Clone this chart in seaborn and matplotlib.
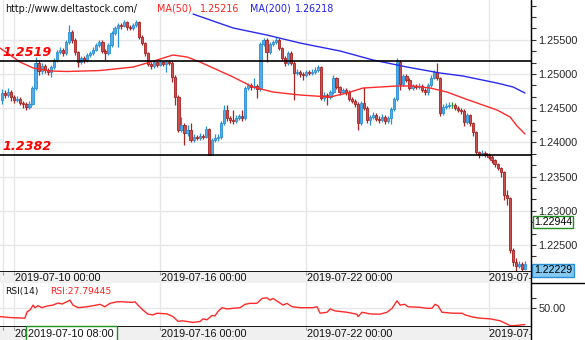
import matplotlib
matplotlib.use("Agg")
import matplotlib.pyplot as plt
import matplotlib.transforms as mtransforms
from matplotlib.lines import Line2D
from matplotlib.patches import Rectangle
from matplotlib.ticker import MultipleLocator, FormatStrFormatter, FixedLocator
from matplotlib import font_manager
import numpy as np
import pandas as pd
import seaborn as sns

sns.set_style("white")
plt.rcParams["font.family"] = ["DejaVu Sans"]

# ---------------- data: GBP/USD 2-hour candles ----------------
first_open = 1.24620
close = [
    1.24722, 1.24693, 1.24737, 1.24664, 1.24620, 1.24634, 1.24576, 1.24561, 1.24518, 1.24561,
    1.24795, 1.25161, 1.25044, 1.25117, 1.25058, 1.25029, 1.25102, 1.25205, 1.25322, 1.25351,
    1.25307, 1.25468, 1.25614, 1.25497, 1.25322, 1.25175, 1.25234, 1.25205, 1.25278, 1.25307,
    1.25351, 1.25424, 1.25468, 1.25336, 1.25307, 1.25424, 1.25599, 1.25673, 1.25716, 1.25702,
    1.25760, 1.25687, 1.25673, 1.25716, 1.25760, 1.25541, 1.25453, 1.25307, 1.25146, 1.25117,
    1.25175, 1.25132, 1.25175, 1.25146, 1.25175, 1.25161, 1.24956, 1.24664, 1.24181, 1.24254,
    1.24137, 1.24181, 1.24035, 1.24079, 1.24064, 1.24094, 1.24079, 1.24196, 1.23816, 1.24035,
    1.24064, 1.24079, 1.24284, 1.24474, 1.24357, 1.24327, 1.24313, 1.24357, 1.24386, 1.24357,
    1.24795, 1.24839, 1.24810, 1.24825, 1.24781, 1.25439, 1.25497, 1.25322, 1.25439, 1.25468,
    1.25497, 1.25380, 1.25234, 1.25161, 1.25307, 1.25161, 1.25015, 1.25029, 1.25000, 1.24985,
    1.25029, 1.25015, 1.25029, 1.25058, 1.25102, 1.24649, 1.24693, 1.24664, 1.24737, 1.24942,
    1.24810, 1.24737, 1.24766, 1.24737, 1.24634, 1.24605, 1.24561, 1.24284, 1.24576, 1.24503,
    1.24327, 1.24371, 1.24401, 1.24342, 1.24327, 1.24371, 1.24313, 1.24357, 1.24488, 1.24634,
    1.25175, 1.24854, 1.24971, 1.24912, 1.24795, 1.24825, 1.24810, 1.24825, 1.24766, 1.24737,
    1.24839, 1.24942, 1.25029, 1.24942, 1.24430, 1.24518, 1.24532, 1.24547, 1.24547, 1.24503,
    1.24474, 1.24459, 1.24298, 1.24401, 1.24284, 1.24152, 1.23860, 1.23816, 1.23845, 1.23816,
    1.23787, 1.23743, 1.23684, 1.23626, 1.23567, 1.23231, 1.23187, 1.22427, 1.22251, 1.22193,
    1.22222, 1.22149, 1.22229,
]
high = [
    1.24780, 1.24770, 1.24790, 1.24760, 1.24700, 1.24680, 1.24660, 1.24610, 1.24590, 1.24600,
    1.24830, 1.25250, 1.25200, 1.25160, 1.25150, 1.25090, 1.25130, 1.25240, 1.25350, 1.25400,
    1.25380, 1.25500, 1.25716, 1.25650, 1.25520, 1.25340, 1.25270, 1.25260, 1.25310, 1.25340,
    1.25390, 1.25460, 1.25497, 1.25500, 1.25360, 1.25450, 1.25630, 1.25700, 1.25740, 1.25750,
    1.25790, 1.25780, 1.25720, 1.25740, 1.25790, 1.25780, 1.25570, 1.25470, 1.25320, 1.25170,
    1.25200, 1.25190, 1.25200, 1.25190, 1.25200, 1.25200, 1.25190, 1.24990, 1.24700, 1.24371,
    1.24290, 1.24260, 1.24284, 1.24120, 1.24110, 1.24140, 1.24120, 1.24240, 1.24210, 1.24060,
    1.24120, 1.24130, 1.24320, 1.24547, 1.24540, 1.24390, 1.24474, 1.24400, 1.24420, 1.24474,
    1.24830, 1.24870, 1.24870, 1.24942, 1.24850, 1.25470, 1.25530, 1.25520, 1.25470, 1.25500,
    1.25541, 1.25520, 1.25400, 1.25260, 1.25340, 1.25330, 1.25190, 1.25070, 1.25060, 1.25030,
    1.25060, 1.25060, 1.25070, 1.25100, 1.25130, 1.25117, 1.24740, 1.24720, 1.24770, 1.24985,
    1.24960, 1.24830, 1.24800, 1.24790, 1.24760, 1.24660, 1.24630, 1.24590, 1.24610, 1.24810,
    1.24530, 1.24400, 1.24440, 1.24430, 1.24380, 1.24410, 1.24400, 1.24390, 1.24520, 1.24670,
    1.25234, 1.25200, 1.25000, 1.25000, 1.24940, 1.24860, 1.24860, 1.24870, 1.24850, 1.24790,
    1.24870, 1.24980, 1.25058, 1.25161, 1.24960, 1.24560, 1.24570, 1.24590, 1.24590, 1.24570,
    1.24530, 1.24500, 1.24490, 1.24430, 1.24420, 1.24300, 1.24170, 1.23880, 1.23890, 1.23870,
    1.23840, 1.23820, 1.23760, 1.23700, 1.23640, 1.23580, 1.23300, 1.23200, 1.22460, 1.22310,
    1.22260, 1.22250, 1.22260,
]
low = [
    1.24560, 1.24650, 1.24660, 1.24610, 1.24580, 1.24590, 1.24540, 1.24510, 1.24480, 1.24490,
    1.24540, 1.24770, 1.24990, 1.25000, 1.25010, 1.24980, 1.24956, 1.25080, 1.25180, 1.25290,
    1.25270, 1.25280, 1.25440, 1.25460, 1.25280, 1.25100, 1.25150, 1.25160, 1.25180, 1.25250,
    1.25280, 1.25330, 1.25400, 1.25300, 1.25205, 1.25280, 1.25400, 1.25570, 1.25395, 1.25660,
    1.25680, 1.25650, 1.25640, 1.25650, 1.25690, 1.25510, 1.25420, 1.25270, 1.25110, 1.25080,
    1.25090, 1.25100, 1.25110, 1.25120, 1.25029, 1.25130, 1.24880, 1.24547, 1.24150, 1.24150,
    1.23962, 1.24100, 1.24006, 1.24010, 1.24030, 1.24040, 1.24050, 1.24060, 1.23816, 1.23816,
    1.24000, 1.24020, 1.24050, 1.24250, 1.24320, 1.24290, 1.24270, 1.24280, 1.24330, 1.24320,
    1.24330, 1.24760, 1.24770, 1.24780, 1.24649, 1.24750, 1.25410, 1.25175, 1.25290, 1.25410,
    1.25440, 1.25350, 1.25200, 1.25120, 1.25130, 1.25130, 1.24620, 1.24980, 1.24960, 1.24912,
    1.24950, 1.24980, 1.24990, 1.25000, 1.25030, 1.24620, 1.24610, 1.24547, 1.24630, 1.24710,
    1.24780, 1.24700, 1.24710, 1.24700, 1.24600, 1.24570, 1.24520, 1.24181, 1.24250, 1.24470,
    1.24290, 1.24254, 1.24340, 1.24310, 1.24290, 1.24300, 1.24270, 1.24280, 1.24269, 1.24460,
    1.24610, 1.24766, 1.24820, 1.24880, 1.24760, 1.24770, 1.24780, 1.24780, 1.24730, 1.24700,
    1.24693, 1.24810, 1.24920, 1.24910, 1.24386, 1.24401, 1.24490, 1.24500, 1.24510, 1.24480,
    1.24440, 1.24420, 1.24240, 1.24270, 1.24240, 1.24094, 1.23830, 1.23772, 1.23800, 1.23790,
    1.23760, 1.23700, 1.23640, 1.23590, 1.23500, 1.23160, 1.23080, 1.22383, 1.22193, 1.22120,
    1.22160, 1.22120, 1.22130,
]

# moving averages (bar index, value)
ma50_bar = [-0.7, 2.6, 5.9, 10.2, 15.8, 21.3, 32.2, 43.1, 51, 56.2, 60.8, 65.1, 76, 82.5, 89.1,
            98, 107.9, 113.4, 118.7, 124.3, 129.9, 135.2, 140.8, 146.3, 151.6, 157.2, 162.8,
            167.1, 169.4, 172]
ma50_val = [1.25380, 1.25278, 1.25175, 1.25088, 1.25044, 1.25037, 1.25051, 1.25102, 1.25205,
            1.25278, 1.25249, 1.25175, 1.24956, 1.24810, 1.24737, 1.24693, 1.24664, 1.24722,
            1.24795, 1.24810, 1.24825, 1.24825, 1.24795, 1.24737, 1.24649, 1.24561, 1.24474,
            1.24371, 1.24240, 1.24123]
ma200_bar = [62.8, 76, 87.1, 98, 111.2, 122, 133.2, 144, 151.6, 162.8, 168.1, 172]
ma200_val = [1.25877, 1.25673, 1.25570, 1.25453, 1.25336, 1.25205, 1.25102, 1.25015, 1.24971,
             1.24868, 1.24810, 1.24722]

# RSI(14)
rsi_bar = [-0.7, 2.6, 7.5, 8.2, 9.2, 10.2, 10.8, 11.8, 13.1, 14.8, 16.7, 18.4, 19.7, 21.3, 22.3,
           23.3, 25, 27.9, 29.9, 32.2, 33.8, 35.5, 37.8, 39.8, 42.7, 43.7, 44.7, 46.3, 48, 49.6,
           51, 54.2, 56.2, 57.9, 59.2, 60.8, 62.8, 65.1, 66.1, 67.4, 69, 70, 71, 72.3, 74, 76,
           78.3, 79.9, 81.5, 83.8, 85.5, 87.1, 88.1, 89.1, 90.8, 92.4, 93.7, 95.4, 98, 102.3,
           103.6, 104.6, 106.9, 107.9, 109.5, 113.4, 116.7, 117.1, 118.4, 121, 124.3, 126.6,
           128.3, 129.9, 130.9, 132.5, 133.5, 137.5, 139.8, 141.4, 142.4, 143.4, 144.7, 148.3,
           151.3, 152.3, 154.9, 157.2, 160.5, 163.8, 166.1, 167.1, 169.4, 171.1, 172]
rsi_val = [38.5, 37.2, 36.4, 44.7, 47.4, 53.9, 50.4, 53.0, 50.4, 52.6, 53.9, 56.6, 55.3, 58.3,
           60.5, 53.9, 50.4, 51.7, 53.0, 54.9, 51.7, 56.2, 58.3, 58.3, 57.5, 58.3, 53.9, 47.4,
           41.7, 40.8, 43.0, 42.1, 38.5, 32.0, 32.9, 32.0, 30.7, 32.0, 35.5, 34.2, 39.9, 39.5,
           45.1, 50.4, 48.7, 49.6, 50.4, 54.9, 56.2, 56.2, 62.8, 63.6, 60.5, 62.8, 58.3, 53.9,
           56.2, 51.7, 50.4, 50.4, 51.7, 43.0, 44.3, 48.7, 46.1, 44.3, 41.7, 38.5, 44.3, 42.1,
           41.7, 44.3, 49.6, 59.6, 53.9, 54.9, 51.7, 50.9, 49.6, 49.6, 54.9, 53.0, 44.3, 43.0,
           43.0, 40.8, 37.8, 36.4, 35.5, 32.9, 28.5, 26.3, 26.7, 27.6, 27.79445]

levels = [1.2519, 1.2382]
level_labels = ["1.2519", "1.2382"]
price_ticks = [1.225, 1.230, 1.235, 1.240, 1.245, 1.250, 1.255]
grid_bars = [0.2, 4, 52, 100, 160]
date_bars = [4, 52, 100, 160]
date_labels = ["2019-07-10 00:00", "2019-07-16 00:00", "2019-07-22 00:00", "2019-07-29 00:00"]
cross_bar = 8
cross_time = "2019-07-10 08:00"
cross_price = 1.22944
last_price = 1.22229
ma50_text, ma200_text = "1.25216", "1.26218"
rsi_text = "RSI:27.79445"

# ---------------- styling ----------------
W, H = 585, 340
AX_R = 531
BLUE_FILL, BLUE_EDGE = "#52ade6", "#2a8fd4"
RED_FILL, RED_EDGE = "#c9504f", "#a82222"
GREEN = "#1f8f1f"
GRID = "#e6e6e6"
STRIP = "#f0f0f0"

names = {f.name for f in font_manager.fontManager.ttflist}
DATE_FONT = "Liberation Sans Narrow" if "Liberation Sans Narrow" in names else "Liberation Sans"
AXIS_FONT = "Liberation Sans"

fig = plt.figure(figsize=(W / 100, H / 100), dpi=100)
fig.patch.set_facecolor("white")


def frame(x0, y0, x1, y1):
    return [x0 / W, 1 - y1 / H, (x1 - x0) / W, (y1 - y0) / H]


ax = fig.add_axes(frame(0, 0, AX_R, 271.7))
ax_d1 = fig.add_axes(frame(0, 271.7, AX_R, 283.3))
ax_rsi = fig.add_axes(frame(0, 283.3, AX_R, 326.7))
ax_d2 = fig.add_axes(frame(0, 326.7, AX_R, 340))

XLIM = (-0.69, 173.98)

# ---------------- price panel ----------------
n = len(close)
idx = np.arange(n)
c = np.array(close)
o = np.r_[first_open, c[:-1]]
up = c > o
dn = c < o
fills = np.where(up, BLUE_FILL, np.where(dn, RED_FILL, GREEN))
edges = np.where(up, BLUE_EDGE, np.where(dn, RED_EDGE, GREEN))

ax.vlines(idx, low, high, colors=edges, lw=0.9, zorder=2)
body_lo = np.minimum(o, c)
body_h = np.maximum(np.abs(c - o), 0.00003)
ax.bar(idx, body_h, bottom=body_lo, width=0.72, color=fills, edgecolor=edges,
       linewidth=0.6, zorder=2.5)

ma50 = pd.DataFrame({"bar": ma50_bar, "value": ma50_val})
ma200 = pd.DataFrame({"bar": ma200_bar, "value": ma200_val})
sns.lineplot(data=ma50, x="bar", y="value", ax=ax, color="#ff2a2a", lw=1.0, zorder=4)
sns.lineplot(data=ma200, x="bar", y="value", ax=ax, color="#2a2aee", lw=1.0, zorder=4)

for lv, lab in zip(levels, level_labels):
    ax.axhline(lv, color="black", lw=1.2, zorder=5)
    ax.annotate(lab, xy=(0.004, lv), xycoords=("axes fraction", "data"),
                xytext=(0, 1.5), textcoords="offset points", ha="left", va="bottom",
                color="#ff0000", fontsize=9.2, fontweight="bold", fontstyle="italic",
                zorder=6)

ax.set_xlim(*XLIM)
ax.set_ylim(1.22110, 1.26082)
ax.set_xlabel("")
ax.set_ylabel("")
ax.set_axisbelow(True)
ax.set_xticks(grid_bars)
ax.tick_params(axis="x", length=0, labelbottom=False)
ax.yaxis.tick_right()
ax.set_yticks(price_ticks)
ax.yaxis.set_major_formatter(FormatStrFormatter("%.5f"))
ax.yaxis.set_minor_locator(MultipleLocator(0.005 / 3))
ax.tick_params(axis="y", which="both", direction="out", length=3.8, width=0.8,
               color="#333333", pad=1.5, labelsize=7.8)
for t in ax.get_yticklabels():
    t.set_fontfamily(AXIS_FONT)
ax.grid(True, which="major", color=GRID, lw=1)
for s in ("left", "top"):
    ax.spines[s].set_visible(False)
ax.spines["right"].set_color("black")
ax.spines["bottom"].set_color("black")
ax.spines["bottom"].set_linewidth(1.3)

# legend texts
fig.text(5 / W, 1 - 8.5 / H, "http://www.deltastock.com/", fontsize=6.9, color="#111111",
         va="center", ha="left")
fig.text(157 / W, 1 - 8.5 / H, "MA(50)", fontsize=6.9, color="#ff2020", va="center")
fig.text(200 / W, 1 - 8.5 / H, ma50_text, fontsize=6.9, color="#ff2020", va="center")
fig.text(250 / W, 1 - 8.5 / H, "MA(200)", fontsize=6.9, color="#2020ee", va="center")
fig.text(295 / W, 1 - 8.5 / H, ma200_text, fontsize=6.9, color="#2020ee", va="center")

# price boxes on the right scale, box top at the quoted price
right_tr = mtransforms.blended_transform_factory(fig.transFigure, ax.transData)
ax.annotate(f"{cross_price:.5f}", xy=(534 / W, cross_price), xycoords=right_tr,
            xytext=(0, -1.8), textcoords="offset points", va="top", ha="left",
            fontsize=7.6, family=AXIS_FONT, color="black", annotation_clip=False,
            bbox=dict(boxstyle="square,pad=0.12", fc="white", ec=GREEN, lw=1.0))
ax.annotate(f"{last_price:.5f}", xy=(534 / W, last_price), xycoords=right_tr,
            xytext=(0, -1.2), textcoords="offset points", va="top", ha="left",
            fontsize=7.6, family=AXIS_FONT, color="black", annotation_clip=False,
            bbox=dict(boxstyle="square,pad=0.15", fc="#86c9f0", ec="#2a8fd4", lw=1.0))

# ---------------- date strips ----------------
date_texts = {}
for sax in (ax_d1, ax_d2):
    sax.set_facecolor(STRIP)
    sax.set_xlim(*XLIM)
    sax.set_ylim(0, 1)
    sax.set_xticks([])
    sax.set_yticks([])
    for s in sax.spines.values():
        s.set_visible(False)
    sax.vlines(grid_bars, 0.72, 1.0, colors="#999999", lw=0.8)
    date_texts[sax] = [
        sax.text(b + 0.25, 0.45, lab, ha="left", va="center", fontsize=7.8,
                 family=DATE_FONT, color="#111111", clip_on=True)
        for b, lab in zip(date_bars, date_labels)
    ]

# crosshair time box hides the start of the first lower label
hidden_from = cross_bar + 0.2
first_low = date_texts[ax_d2][0]
first_low.set_clip_path(Rectangle((XLIM[0], 0), hidden_from - XLIM[0], 1,
                                  transform=ax_d2.transData))
ax_d2.text(cross_bar + 0.6, 0.45, cross_time, ha="left", va="center", fontsize=7.8,
           family=DATE_FONT, color="#111111", zorder=5,
           bbox=dict(boxstyle="square,pad=0.25", fc="white", ec=GREEN, lw=1.0))

# ---------------- RSI panel ----------------
rsi = pd.DataFrame({"bar": rsi_bar, "rsi": rsi_val})
sns.lineplot(data=rsi, x="bar", y="rsi", ax=ax_rsi, color="#ff2a2a", lw=1.0)
ax_rsi.set_xlim(*XLIM)
ax_rsi.set_ylim(25, 83)
ax_rsi.set_xlabel("")
ax_rsi.set_ylabel("")
ax_rsi.set_axisbelow(True)
ax_rsi.set_xticks(grid_bars)
ax_rsi.tick_params(axis="x", length=0, labelbottom=False)
ax_rsi.yaxis.tick_right()
ax_rsi.set_yticks([50])
ax_rsi.yaxis.set_major_formatter(FormatStrFormatter("%.2f"))
ax_rsi.yaxis.set_minor_locator(FixedLocator([63.2]))
ax_rsi.tick_params(axis="y", which="both", direction="out", length=3.8, width=0.8,
                   color="#333333", pad=1.5, labelsize=7.8)
for t in ax_rsi.get_yticklabels():
    t.set_fontfamily(AXIS_FONT)
ax_rsi.grid(True, which="major", color=GRID, lw=1)
for s in ("left", "top"):
    ax_rsi.spines[s].set_visible(False)
ax_rsi.spines["right"].set_color("black")
ax_rsi.spines["bottom"].set_color("black")
ax_rsi.spines["bottom"].set_linewidth(1.3)
ax_rsi.text(5 / AX_R, 0.82, "RSI(14)", transform=ax_rsi.transAxes, fontsize=6.6,
            color="#111111", va="center", ha="left")
ax_rsi.text(50 / AX_R, 0.82, rsi_text, transform=ax_rsi.transAxes, fontsize=6.6,
            color="#ff2020", va="center", ha="left")

# frame lines of the right-hand scale column
fig.add_artist(Line2D([AX_R / W, AX_R / W], [0, 1], transform=fig.transFigure,
                      color="black", lw=1.0))
fig.add_artist(Line2D([AX_R / W, 1], [1 - 283.3 / H, 1 - 283.3 / H],
                      transform=fig.transFigure, color="black", lw=1.0))

fig.savefig("out.png", dpi=100, facecolor="white")
